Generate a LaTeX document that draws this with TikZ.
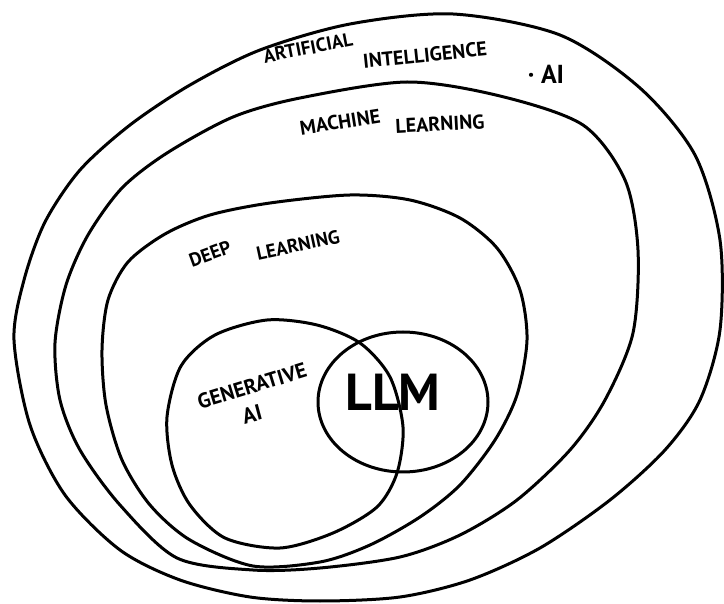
\documentclass[tikz,border=0pt]{standalone}
\usepackage{fontspec}
\setmainfont{PT Sans}
\usepackage{tikz}

\begin{document}
\begin{tikzpicture}[x=1pt,y=-1pt, every node/.style={inner sep=0pt}, ring/.style={line width=3pt,line cap=round,line join=round}, lbl/.style={font=\fontsize{#1}{#1}\selectfont\bfseries}]
\fill[white] (0,0) rectangle (724,604); \useasboundingbox (0,0) rectangle (724,604);
% nested fields
\draw[ring] plot[smooth cycle] coordinates {(14,340) (24,280) (45,222) (80,170) (130,125) (190,85) (260,50) (350,24) (453,14) (560,35) (640,88) (695,155) (720,240) (720,330) (700,400) (665,450) (610,500) (540,548) (470,580) (400,597) (320,601) (250,597) (180,580) (120,550) (65,495) (30,425)};
\draw[ring] plot[smooth cycle] coordinates {(55,343) (66,285) (88,235) (122,188) (167,153) (233,117) (300,98) (407,82) (500,96) (583,125) (625,180) (638,250) (633,333) (605,400) (570,450) (517,500) (460,535) (400,557) (320,568) (253,570) (177,558) (120,505) (80,450) (60,400)};
\draw[ring] plot[smooth cycle] coordinates {(102,350) (108,300) (128,262) (165,234) (210,215) (270,203) (350,195) (410,200) (460,218) (497,248) (520,290) (527,340) (517,395) (495,440) (460,485) (420,517) (370,545) (320,562) (253,566) (190,540) (150,505) (122,460) (106,405)};
\draw[ring] plot[smooth cycle] coordinates {(167,417) (181,366) (215,335) (267,320) (317,325) (360,343) (390,377) (403,427) (397,473) (377,507) (333,533) (280,548) (225,538) (190,505) (172,465)};
\draw[ring] (403,402) ellipse [x radius=85, y radius=70];
% labels
\node[lbl=19,rotate=11] (artificial) at (308,48) {ARTIFICIAL}; \node[lbl=20,rotate=6] (intelligence) at (425,55) {INTELLIGENCE}; \node[lbl=26] (ai) at (546,74) {· AI};
\node[lbl=20,rotate=9] (machine) at (340,122) {MACHINE}; \node[lbl=20,rotate=3] (mlearning) at (440,124) {LEARNING};
\node[lbl=19,rotate=20] (deep) at (210,254) {DEEP}; \node[lbl=19,rotate=12] (dlearning) at (298,245) {LEARNING};
\node[lbl=21,rotate=17] (generative) at (252,386) {GENERATIVE}; \node[lbl=22,rotate=15] (genai) at (252,414) {AI};
\node[lbl=52] (llm) at (393,392) {LLM};
\end{tikzpicture}
\end{document}
